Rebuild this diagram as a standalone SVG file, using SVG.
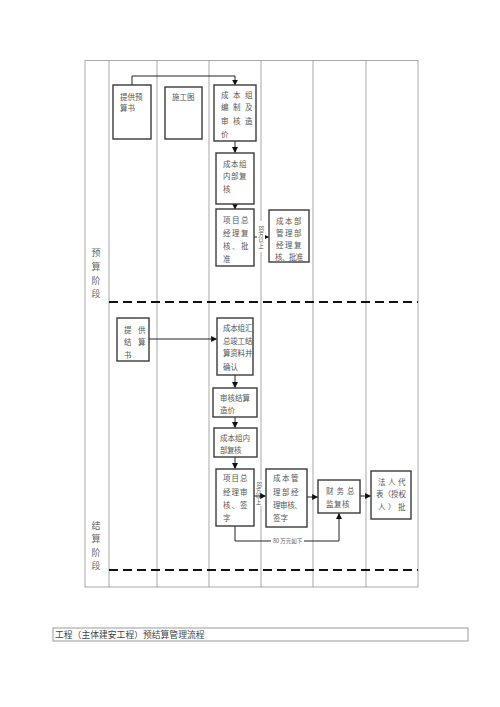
<svg xmlns="http://www.w3.org/2000/svg" width="500" height="707" viewBox="0 0 500 707">
<style>
.grid{stroke:#a8a8a8;stroke-width:1;fill:none}
.dash{stroke:#111;stroke-width:2;stroke-dasharray:9 5;fill:none}
.box{fill:#fff;stroke:#3a3a3a;stroke-width:1.4}
.t{font-family:"Noto Sans CJK SC","Noto Sans",sans-serif;font-size:7.5px;fill:#555}
.lbl{font-family:"Noto Sans CJK SC","Noto Sans",sans-serif;font-size:9px;fill:#666;text-anchor:middle}
.small{font-family:"Noto Sans CJK SC","Noto Sans",sans-serif;font-size:5.5px;fill:#555}
.vert{writing-mode:vertical-rl;text-anchor:middle}
.con{stroke:#222;stroke-width:1;fill:none;marker-end:url(#ah)}
.conn{stroke:#222;stroke-width:1;fill:none}
</style>
<defs>
<marker id="ah" viewBox="0 0 10 10" refX="9" refY="5" markerWidth="6" markerHeight="6" orient="auto" markerUnits="userSpaceOnUse">
<path d="M0,0 L10,5 L0,10 z" fill="#111"/>
</marker>
</defs>
<rect width="500" height="707" fill="#fff"/>
<g id="table">
<rect class="grid" x="85" y="60.5" width="333" height="526.5"/>
<line class="grid" x1="109" y1="60.5" x2="109" y2="587"/>
<line class="grid" x1="157" y1="60.5" x2="157" y2="587"/>
<line class="grid" x1="209" y1="60.5" x2="209" y2="587"/>
<line class="grid" x1="261" y1="60.5" x2="261" y2="587"/>
<line class="grid" x1="313" y1="60.5" x2="313" y2="587"/>
<line class="grid" x1="366" y1="60.5" x2="366" y2="587"/>
<line class="dash" x1="109" y1="302" x2="418" y2="302"/>
<line class="dash" x1="109" y1="570" x2="418" y2="570"/>
<text class="lbl" x="96" y="256">预</text>
<text class="lbl" x="96" y="270">算</text>
<text class="lbl" x="96" y="284">阶</text>
<text class="lbl" x="96" y="297">段</text>
<text class="lbl" x="96" y="529">结</text>
<text class="lbl" x="96" y="542">算</text>
<text class="lbl" x="96" y="556">阶</text>
<text class="lbl" x="96" y="569">段</text>
</g>
<g id="connectors">
<path class="con" d="M132,85 V76 H235 V85"/>
<path class="con" d="M235,141 V152.5"/>
<path class="con" d="M235,204 V209"/>
<path class="con" d="M254,237 H268.5"/>
<path class="con" d="M149,339 H216.5"/>
<path class="con" d="M235,375 V387.5"/>
<path class="con" d="M235,417 V427.5"/>
<path class="con" d="M235,457 V468.5"/>
<path class="con" d="M254,496 H265.5"/>
<path class="con" d="M307,497 H317.5"/>
<path class="con" d="M360,496 H370.5"/>
<path class="conn" d="M235,526 V541 H271"/>
<path class="con" d="M304,541 H339 V513.5"/>
<rect x="257" y="221" width="8" height="31" fill="#fff"/>
<text class="small vert" x="261" y="237">80万以上</text>
<rect x="255" y="480" width="7" height="13" fill="#fff"/>
<rect x="255" y="499" width="7" height="7" fill="#fff"/>
<text class="small vert" x="258.5" y="493">80万以上</text>
<text class="small" x="273" y="543">80 万元如下</text>
</g>
<g id="n1"><rect class="box" x="113" y="85" width="38" height="54"/>
<text class="t" x="120" y="100">提供预</text><text class="t" x="120" y="111">算书</text></g>
<g id="n2"><rect class="box" x="165" y="87" width="37" height="52"/>
<text class="t" x="172" y="100">施工图</text></g>
<g id="n3"><rect class="box" x="214" y="85" width="42" height="56"/>
<text class="t" x="221" y="98" letter-spacing="4.5">成本组</text>
<text class="t" x="221" y="110" letter-spacing="4.5">编制及</text>
<text class="t" x="221" y="124" letter-spacing="4.5">审核造</text>
<text class="t" x="221" y="137">价</text></g>
<g id="n4"><rect class="box" x="216" y="153" width="38" height="51"/>
<text class="t" x="223" y="167" letter-spacing="0.5">成本组</text>
<text class="t" x="223" y="179" letter-spacing="0.5">内部复</text>
<text class="t" x="223" y="192">核</text></g>
<g id="n5"><rect class="box" x="216" y="209" width="38" height="57"/>
<text class="t" x="223" y="223" letter-spacing="1.5">项目总</text>
<text class="t" x="223" y="236" letter-spacing="1.5">经理复</text>
<text class="t" x="223" y="249" letter-spacing="1.5">核、批</text>
<text class="t" x="223" y="262">准</text></g>
<g id="n6"><rect class="box" x="269" y="210" width="40" height="52"/>
<text class="t" x="276" y="224" letter-spacing="1.5">成本部</text>
<text class="t" x="276" y="236" letter-spacing="1.5">管理部</text>
<text class="t" x="276" y="248" letter-spacing="1.5">经理复</text>
<text class="t" x="275" y="260" letter-spacing="-0.6">核、批准</text></g>
<g id="n7"><rect class="box" x="117" y="318" width="32" height="43"/>
<text class="t" x="124" y="333" letter-spacing="6.5">提供</text>
<text class="t" x="124" y="345" letter-spacing="6.5">结算</text>
<text class="t" x="124" y="358">书</text></g>
<g id="n8"><rect class="box" x="217" y="318" width="36" height="57"/>
<text class="t" x="223" y="331" font-size="6.8" letter-spacing="-0.2">成本组汇</text>
<text class="t" x="223" y="344" font-size="6.8" letter-spacing="-0.2">总竣工结</text>
<text class="t" x="223" y="356" font-size="6.8" letter-spacing="-0.2">算资料并</text>
<text class="t" x="223" y="370" font-size="6.8">确认</text></g>
<g id="n9"><rect class="box" x="213" y="388" width="44" height="29"/>
<text class="t" x="220" y="401">审核结算</text>
<text class="t" x="220" y="413">造价</text></g>
<g id="n10"><rect class="box" x="214" y="428" width="43" height="29"/>
<text class="t" x="220" y="441">成本组内</text>
<text class="t" x="220" y="453" font-size="6.5" letter-spacing="-0.5">部复核</text></g>
<g id="n11"><rect class="box" x="216" y="469" width="38" height="57"/>
<text class="t" x="223" y="481" letter-spacing="1">项目总</text>
<text class="t" x="223" y="495" letter-spacing="1">经理审</text>
<text class="t" x="223" y="508" letter-spacing="1">核、签</text>
<text class="t" x="223" y="521">字</text></g>
<g id="n12"><rect class="box" x="266" y="469" width="41" height="58"/>
<text class="t" x="273" y="481" letter-spacing="1.5">成本管</text>
<text class="t" x="273" y="495" letter-spacing="1.5">理部经</text>
<text class="t" x="273" y="508" letter-spacing="-0.4">理审核、</text>
<text class="t" x="273" y="521">签字</text></g>
<g id="n13"><rect class="box" x="318" y="480" width="42" height="33"/>
<text class="t" x="326" y="494" letter-spacing="3">财务总</text>
<text class="t" x="326" y="507" letter-spacing="0.5">监复核</text></g>
<g id="n14"><rect class="box" x="371" y="471" width="40" height="48"/>
<text class="t" x="378" y="485" letter-spacing="2.5">法人代</text>
<text class="t" x="376" y="497" font-size="7">表（授权</text>
<text class="t" x="378" y="510" letter-spacing="2.5">人）批</text></g>
<g id="title"><rect x="53" y="628" width="415" height="13" fill="#fff" stroke="#999" stroke-width="1"/>
<text x="55" y="638" font-family="Noto Sans CJK SC, Noto Sans, sans-serif" font-size="8.8" fill="#444">工程（主体建安工程）预结算管理流程</text></g>
</svg>
